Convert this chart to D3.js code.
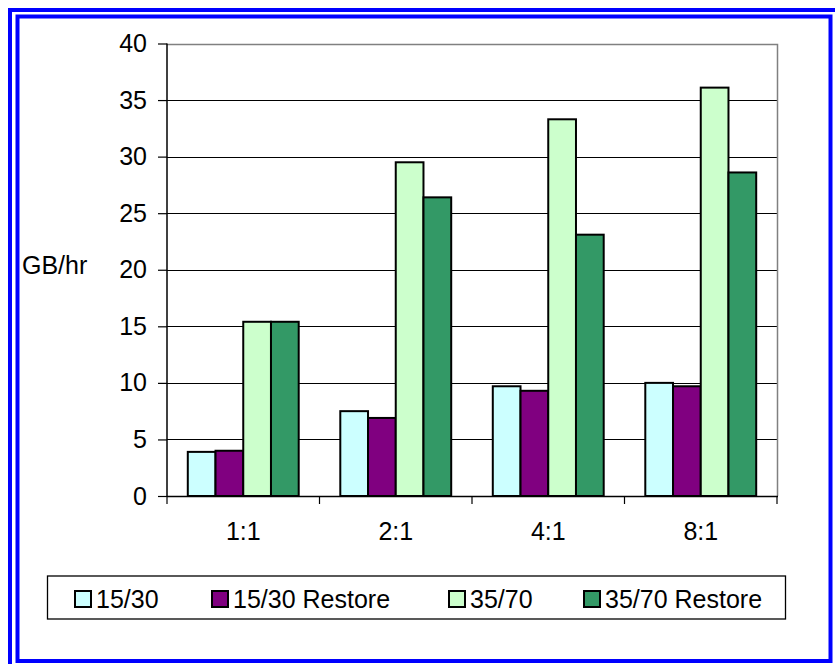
<!DOCTYPE html>
<html>
<head>
<meta charset="utf-8">
<script src="https://cdn.jsdelivr.net/npm/d3@7"></script>
<style>
html,body{margin:0;padding:0;background:#fff;}
svg{display:block;}
text{font-family:"Liberation Sans",Arial,sans-serif;fill:#000;}
</style>
</head>
<body>
<svg id="chart" width="835" height="664"></svg>
<script>
const categories = ["1:1", "2:1", "4:1", "8:1"];
const seriesNames = ["15/30", "15/30 Restore", "35/70", "35/70 Restore"];
const seriesColors = ["#CCFFFF", "#800080", "#CCFFCC", "#339966"];
const s1530 = [3.9, 7.5, 9.7, 10.0];
const s1530R = [4.0, 6.9, 9.3, 9.7];
const s3570 = [15.4, 29.5, 33.3, 36.1];
const s3570R = [15.4, 26.4, 23.1, 28.6];
const yTicks = [0, 5, 10, 15, 20, 25, 30, 35, 40];
const yLabel = "GB/hr";

(function () {
const seriesValues = [s1530, s1530R, s3570, s3570R];
const svg = d3.select("#chart");
const fs = 25;

// frame
svg.append("rect").attr("x", 10).attr("y", 10).attr("width", 830).attr("height", 660)
  .attr("fill", "none").attr("stroke", "#0000FF").attr("stroke-width", 4);
svg.append("rect").attr("x", 17.5).attr("y", 16.5).attr("width", 813).attr("height", 644.5)
  .attr("fill", "none").attr("stroke", "#0000FF").attr("stroke-width", 4);

const pL = 167, pR = 777, pT = 43.5, pB = 496;
const x = d3.scaleBand().domain(categories).range([pL, pR]).padding(0);
const y = d3.scaleLinear().domain([0, 40]).range([pB, pT]);
const barW = x.bandwidth() / 5.5;
const xs = d3.scaleBand().domain(seriesNames).range([0, barW * 4]).padding(0);

// gridlines
svg.append("g").selectAll("line").data(yTicks.filter(t => t > 0 && t < 40)).join("line")
  .attr("x1", pL).attr("x2", pR)
  .attr("y1", d => Math.round(y(d)) + 0.5).attr("y2", d => Math.round(y(d)) + 0.5)
  .attr("stroke", "#000").attr("stroke-width", 1);
// plot border top & right (gray)
svg.append("path")
  .attr("d", `M${pL},${Math.round(pT)+0.5}H${pR+0.5}V${pB}`)
  .attr("fill", "none").attr("stroke", "#808080").attr("stroke-width", 1.5);

// bars
const groups = svg.append("g").selectAll("g").data(categories).join("g")
  .attr("transform", d => `translate(${x(d) + (x.bandwidth() - barW * 4) / 2},0)`);
groups.selectAll("rect").data((c, ci) => seriesNames.map((s, si) => ({s, v: seriesValues[si][ci], si})))
  .join("rect")
  .attr("x", d => xs(d.s)).attr("width", xs.bandwidth())
  .attr("y", d => y(d.v)).attr("height", d => y(0) - y(d.v))
  .attr("fill", d => seriesColors[d.si]).attr("stroke", "#000").attr("stroke-width", 2);

// y axis
const yAxis = d3.axisLeft(y).tickValues(yTicks).tickSize(9).tickPadding(11).tickFormat(d3.format("d"));
const ya = svg.append("g").attr("transform", `translate(${pL},0)`).call(yAxis);
ya.select(".domain").attr("stroke", "#000").attr("stroke-width", 1.5).attr("d", `M0,${pB}V${pT}`);
ya.selectAll(".tick line").attr("stroke", "#000").attr("stroke-width", 1.2);
ya.selectAll(".tick text").attr("font-size", fs).attr("font-family", "Liberation Sans, Arial, sans-serif").attr("fill", "#000");

// x axis
const xa = svg.append("g").attr("transform", `translate(0,${pB})`)
  .call(d3.axisBottom(x).tickSize(0).tickPadding(26));
xa.select(".domain").remove();
xa.selectAll(".tick text").attr("font-size", fs).attr("font-family", "Liberation Sans, Arial, sans-serif").attr("fill", "#000");
svg.append("line").attr("x1", pL).attr("x2", pR + 1).attr("y1", pB + 0.5).attr("y2", pB + 0.5)
  .attr("stroke", "#000").attr("stroke-width", 1.5);
const bounds = categories.map(c => x(c)).concat([pR]);
svg.append("g").selectAll("line").data(bounds).join("line")
  .attr("x1", d => d).attr("x2", d => d).attr("y1", pB).attr("y2", pB + 8)
  .attr("stroke", "#000").attr("stroke-width", 1.2);

// y label
svg.append("text").attr("x", 22).attr("y", 274).attr("font-size", fs).text(yLabel);

// legend
svg.append("rect").attr("x", 47.5).attr("y", 576).attr("width", 738).attr("height", 43)
  .attr("fill", "#fff").attr("stroke", "#000").attr("stroke-width", 1.3);
const legX = [75, 212, 449, 584];
const lg = svg.append("g").selectAll("g").data(seriesNames).join("g")
  .attr("transform", (d, i) => `translate(${legX[i]},591)`);
lg.append("rect").attr("width", 16).attr("height", 16)
  .attr("fill", (d, i) => seriesColors[i]).attr("stroke", "#000").attr("stroke-width", 2);
lg.append("text").attr("x", 21).attr("y", 17).attr("font-size", fs).text(d => d);
})();
</script>
</body>
</html>
